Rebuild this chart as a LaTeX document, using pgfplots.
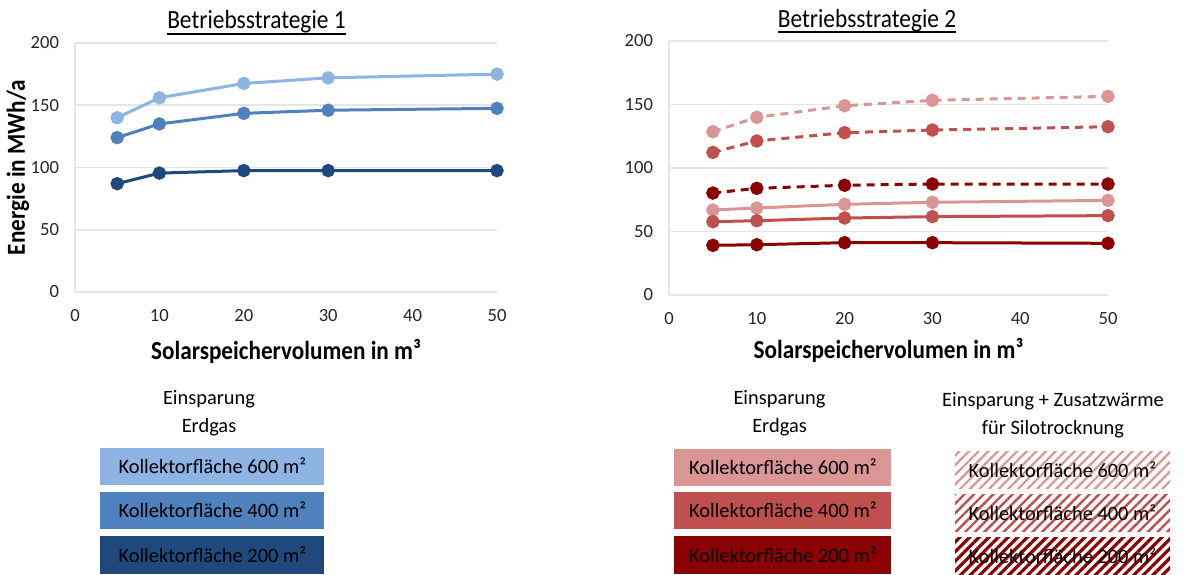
\documentclass[border=0pt]{standalone}
\usepackage{fontspec}
\setmainfont{Carlito}
\usepackage{pgfplots}
\pgfplotsset{compat=1.18}
\usetikzlibrary{patterns.meta}
\definecolor{bl1}{HTML}{8EB4E3}
\definecolor{bl2}{HTML}{4F81BD}
\definecolor{bl3}{HTML}{1F497D}
\definecolor{rd1}{HTML}{D99694}
\definecolor{rd2}{HTML}{C0504D}
\definecolor{rd3}{HTML}{8B0000}
\definecolor{gridc}{HTML}{E6E6E6}
\newcommand{\legfont}{\fontsize{10.2}{12}\selectfont}
\newcommand{\ul}[1]{\setbox0\hbox{#1}\leavevmode\rlap{\rule[-2.6pt]{\wd0}{0.85pt}}\box0}
\pgfplotsset{
  myax/.style={
    scale only axis,
    xmin=0, xmax=50, ymin=0, ymax=200,
    xtick={0,10,...,50}, ytick={0,50,...,200},
    ymajorgrids, grid style={gridc, line width=0.8pt},
    axis lines=left, axis line style={-, draw=gridc, line width=0.8pt},
    major tick length=0pt,
    tick label style={font=\fontsize{9.3}{11}\selectfont, text=black!85},
    /pgf/number format/assume math mode=true,
    xticklabel style={yshift=-5pt},
    yticklabel style={xshift=-4.5pt},
    every axis title shift=0pt,
    title style={font=\fontsize{11.7}{14}\selectfont, anchor=base, yshift=7pt, yscale=1.12},
    xlabel style={font=\bfseries\fontsize{11.6}{14}\selectfont, anchor=center, yscale=1.12},
    ylabel style={font=\bfseries\fontsize{11.6}{14}\selectfont, anchor=center, yscale=1.12},
    every axis plot/.append style={line width=1.5pt, mark=*, mark size=2.6pt, mark options={solid}},
    clip=false,
  }
}
\begin{document}
\begin{tikzpicture}[x=1pt,y=1pt]
\useasboundingbox (0,0) rectangle (600,287);
\begin{axis}[myax, at={(37.5pt,141pt)}, anchor=south west, width=211pt, height=124.5pt,
  title={\ul{Betriebsstrategie 1}}, title style={at={(axis description cs:0.43,1)}},
  xlabel={Solarspeichervolumen in m³}, xlabel style={at={(axis description cs:0.5,-0.24)}},
  ylabel={Energie in MWh/a}, ylabel style={at={(axis description cs:-0.135,0.5)}}]
\addplot[color=bl1] coordinates {(5,140) (10,156) (20,167.5) (30,172) (50,175)};
\addplot[color=bl2] coordinates {(5,124) (10,135) (20,143.5) (30,146) (50,147.5)};
\addplot[color=bl3] coordinates {(5,87) (10,95.5) (20,97.5) (30,97.5) (50,97.5)};
\end{axis}
\begin{axis}[myax, at={(334.5pt,139.5pt)}, anchor=south west, width=219.5pt, height=127pt,
  title={\ul{Betriebsstrategie 2}}, title style={at={(axis description cs:0.451,1)}},
  xlabel={Solarspeichervolumen in m³}, xlabel style={at={(axis description cs:0.5,-0.218)}}]
\addplot[color=rd1, dash pattern=on 4pt off 3pt] coordinates {(5,128.6) (10,139.9) (20,149) (30,153.3) (50,156.4)};
\addplot[color=rd2, dash pattern=on 4pt off 3pt] coordinates {(5,112.3) (10,121.3) (20,127.8) (30,129.9) (50,132.5)};
\addplot[color=rd3, dash pattern=on 4pt off 3pt] coordinates {(5,80.3) (10,84) (20,86.4) (30,87.4) (50,87.4)};
\addplot[color=rd1] coordinates {(5,66.9) (10,68.5) (20,71.4) (30,73) (50,74.5)};
\addplot[color=rd2] coordinates {(5,57.7) (10,58.5) (20,60.6) (30,61.7) (50,62.5)};
\addplot[color=rd3] coordinates {(5,39.1) (10,39.6) (20,41.2) (30,41.2) (50,40.7)};
\end{axis}
% legend headers
\node[align=center, font=\legfont, anchor=base] at (104.5,85) {Einsparung};
\node[align=center, font=\legfont, anchor=base] at (104.5,71) {Erdgas};
\node[align=center, font=\legfont, anchor=base] at (389.75,85) {Einsparung};
\node[align=center, font=\legfont, anchor=base] at (389.75,71) {Erdgas};
\node[align=center, font=\legfont, anchor=base] at (526.5,84) {Einsparung + Zusatzwärme};
\node[align=center, font=\legfont, anchor=base] at (526.5,70) {für Silotrocknung};
% left legend boxes
\node[fill=bl1, minimum width=112pt, minimum height=18.5pt, inner sep=0pt, anchor=south west, font=\legfont] at (50,44.5) {Kollektorfläche 600 m²};
\node[fill=bl2, minimum width=112pt, minimum height=18.5pt, inner sep=0pt, anchor=south west, font=\legfont] at (50,22.5) {Kollektorfläche 400 m²};
\node[fill=bl3, minimum width=112pt, minimum height=19pt, inner sep=0pt, anchor=south west, font=\legfont] at (50,0) {Kollektorfläche 200 m²};
% right legend boxes solid
\node[fill=rd1, minimum width=108.5pt, minimum height=18.5pt, inner sep=0pt, anchor=south west, font=\legfont] at (337,44) {Kollektorfläche 600 m²};
\node[fill=rd2, minimum width=108.5pt, minimum height=18.5pt, inner sep=0pt, anchor=south west, font=\legfont] at (337,22.5) {Kollektorfläche 400 m²};
\node[fill=rd3, minimum width=108.5pt, minimum height=19pt, inner sep=0pt, anchor=south west, font=\legfont] at (337,0) {Kollektorfläche 200 m²};
% hatched boxes
\fill[pattern={Lines[angle=45, distance=3.4pt, line width=1.1pt]}, pattern color=rd1] (477.5,42.7) rectangle (585,61.2);
\fill[pattern={Lines[angle=45, distance=3.4pt, line width=1.2pt]}, pattern color=rd2] (477.5,21.2) rectangle (585,40);
\fill[pattern={Lines[angle=45, distance=3.4pt, line width=1.6pt]}, pattern color=rd3] (477.5,0) rectangle (585,18.5);
\node[font=\legfont] at (531.25,51.95) {Kollektorfläche 600 m²};
\node[font=\legfont] at (531.25,30.6) {Kollektorfläche 400 m²};
\node[font=\legfont] at (531.25,9.25) {Kollektorfläche 200 m²};
\end{tikzpicture}
\end{document}
